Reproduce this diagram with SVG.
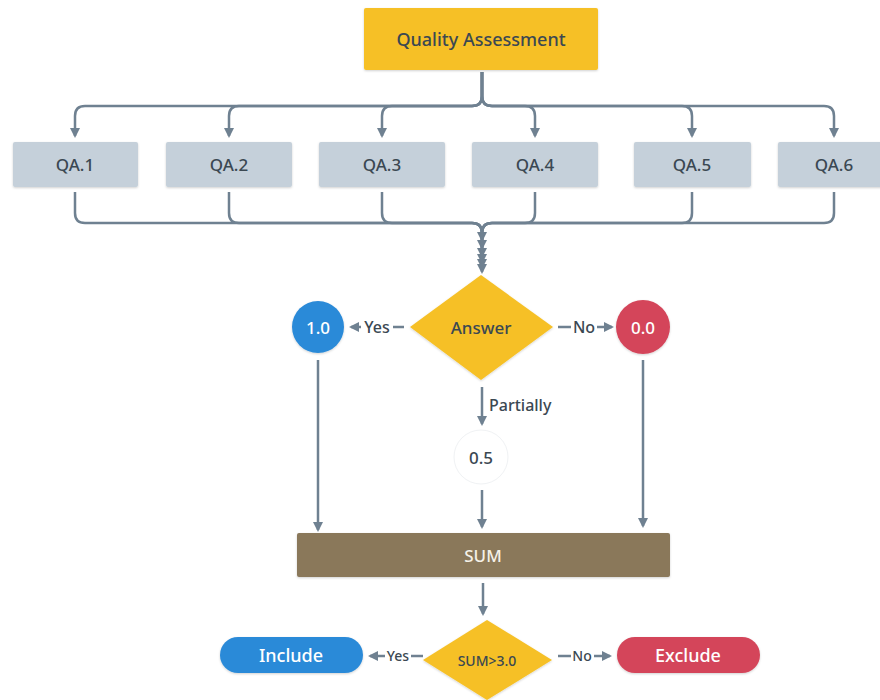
<svg xmlns="http://www.w3.org/2000/svg" width="880" height="700" viewBox="0 0 880 700">
<style>
text{font-family:"Noto Sans","DejaVu Sans",sans-serif;text-anchor:middle;dominant-baseline:central;font-weight:500}
.dark{fill:#3b4852}
.white{fill:#ffffff}
.qa rect{fill:#c5d0da}
.c{fill:none;stroke:#6f8191;stroke-width:2.5}
.lbl{font-size:16px;fill:#3b4852}
</style>
<defs>
<marker id="ah" viewBox="0 0 10 10" refX="8" refY="5" markerWidth="4" markerHeight="4" orient="auto-start-reverse">
<path d="M0,0 L10,5 L0,10 z" fill="#6f8191"/>
</marker>
<filter id="sh" x="-10%" y="-20%" width="120%" height="140%">
<feDropShadow dx="0" dy="1" stdDeviation="1.2" flood-color="#000" flood-opacity="0.18"/>
</filter>
</defs>
<rect width="880" height="700" fill="#ffffff"/>

<g id="connectors">
<path class="c" marker-end="url(#ah)" d="M482,72 V96 Q482,106 472,106 H85 Q75,106 75,116 V136"/>
<path class="c" marker-end="url(#ah)" d="M482,72 V96 Q482,106 472,106 H239 Q229,106 229,116 V136"/>
<path class="c" marker-end="url(#ah)" d="M482,72 V96 Q482,106 472,106 H392 Q382,106 382,116 V136"/>
<path class="c" marker-end="url(#ah)" d="M482,72 V96 Q482,106 492,106 H525 Q535,106 535,116 V136"/>
<path class="c" marker-end="url(#ah)" d="M482,72 V96 Q482,106 492,106 H682 Q692,106 692,116 V136"/>
<path class="c" marker-end="url(#ah)" d="M482,72 V96 Q482,106 492,106 H824 Q834,106 834,116 V136"/>

<path class="c" marker-end="url(#ah)" d="M75,192 V213 Q75,223 85,223 H472 Q482,223 482,233 V240"/>
<path class="c" marker-end="url(#ah)" d="M229,192 V213 Q229,223 239,223 H472 Q482,223 482,233 V248"/>
<path class="c" marker-end="url(#ah)" d="M382,192 V213 Q382,223 392,223 H472 Q482,223 482,233 V256"/>
<path class="c" marker-end="url(#ah)" d="M535,192 V213 Q535,223 525,223 H492 Q482,223 482,233 V262"/>
<path class="c" marker-end="url(#ah)" d="M692,192 V213 Q692,223 682,223 H492 Q482,223 482,233 V267"/>
<path class="c" marker-end="url(#ah)" d="M834,192 V213 Q834,223 824,223 H492 Q482,223 482,233 V272"/>

<path class="c" marker-end="url(#ah)" d="M404,327 H351"/>
<rect x="361" y="317" width="32" height="20" fill="#fff"/>
<text class="lbl" x="377" y="327">Yes</text>
<path class="c" marker-end="url(#ah)" d="M558,327 H612"/>
<rect x="571" y="317" width="26" height="20" fill="#fff"/>
<text class="lbl" x="584" y="327">No</text>

<path class="c" marker-end="url(#ah)" d="M482,387 V424"/>
<text class="lbl" x="489" y="405" style="text-anchor:start">Partially</text>

<path class="c" marker-end="url(#ah)" d="M318,360 V530"/>
<path class="c" marker-end="url(#ah)" d="M643,360 V526"/>
<path class="c" marker-end="url(#ah)" d="M482,490 V527"/>
<path class="c" marker-end="url(#ah)" d="M483,583 V614"/>

<path class="c" marker-end="url(#ah)" d="M423,656 H370"/>
<rect x="385" y="646" width="26" height="20" fill="#fff"/>
<text class="lbl" x="398" y="655" style="font-size:14px">Yes</text>
<path class="c" marker-end="url(#ah)" d="M558,656 H610"/>
<rect x="571" y="646" width="23" height="20" fill="#fff"/>
<text class="lbl" x="582" y="655" style="font-size:14px">No</text>
</g>

<g id="quality-assessment">
<rect x="364" y="8" width="234" height="62" rx="2" fill="#f6c026" filter="url(#sh)"/>
<text class="dark" x="481" y="39" font-size="18">Quality Assessment</text>
</g>

<g id="qa1" class="qa"><rect x="13" y="142" width="125" height="45" rx="2" filter="url(#sh)"/><text class="dark" x="75" y="164" font-size="17">QA.1</text></g>
<g id="qa2" class="qa"><rect x="166" y="142" width="126" height="45" rx="2" filter="url(#sh)"/><text class="dark" x="229" y="164" font-size="17">QA.2</text></g>
<g id="qa3" class="qa"><rect x="319" y="142" width="126" height="45" rx="2" filter="url(#sh)"/><text class="dark" x="382" y="164" font-size="17">QA.3</text></g>
<g id="qa4" class="qa"><rect x="472" y="142" width="126" height="45" rx="2" filter="url(#sh)"/><text class="dark" x="535" y="164" font-size="17">QA.4</text></g>
<g id="qa5" class="qa"><rect x="634" y="142" width="117" height="45" rx="2" filter="url(#sh)"/><text class="dark" x="692" y="164" font-size="17">QA.5</text></g>
<g id="qa6" class="qa"><rect x="778" y="142" width="110" height="45" rx="2" filter="url(#sh)"/><text class="dark" x="834" y="164" font-size="17">QA.6</text></g>

<g id="answer">
<path d="M481,275 L553,327 L481,380 L410,327 z" fill="#f6c026" filter="url(#sh)"/>
<text class="dark" x="481" y="327" font-size="17">Answer</text>
</g>

<g id="score-1">
<circle cx="318" cy="327" r="26" fill="#2b8ad8" filter="url(#sh)"/>
<text class="white" x="318" y="327" font-size="17">1.0</text>
</g>
<g id="score-0">
<circle cx="643" cy="327" r="27" fill="#d4455a" filter="url(#sh)"/>
<text class="white" x="643" y="327" font-size="17">0.0</text>
</g>
<g id="score-05">
<circle cx="481" cy="457" r="27" fill="#ffffff" stroke="#f0f2f4" stroke-width="1"/>
<text class="dark" x="481" y="457" font-size="17">0.5</text>
</g>

<g id="sum">
<rect x="297" y="533" width="373" height="44" rx="2" fill="#8a785a" filter="url(#sh)"/>
<text x="483" y="555" font-size="17" fill="#f5f1e8">SUM</text>
</g>

<g id="sum-check">
<path d="M487,620 L552,660 L487,700 L423,660 z" fill="#f6c026" filter="url(#sh)"/>
<text class="dark" x="487" y="660" font-size="14">SUM&gt;3.0</text>
</g>

<g id="include">
<rect x="220" y="637" width="143" height="36" rx="18" fill="#2b8ad8" filter="url(#sh)"/>
<text class="white" x="291" y="655" font-size="18">Include</text>
</g>
<g id="exclude">
<rect x="617" y="637" width="143" height="36" rx="18" fill="#d4455a" filter="url(#sh)"/>
<text class="white" x="688" y="655" font-size="18">Exclude</text>
</g>
</svg>
